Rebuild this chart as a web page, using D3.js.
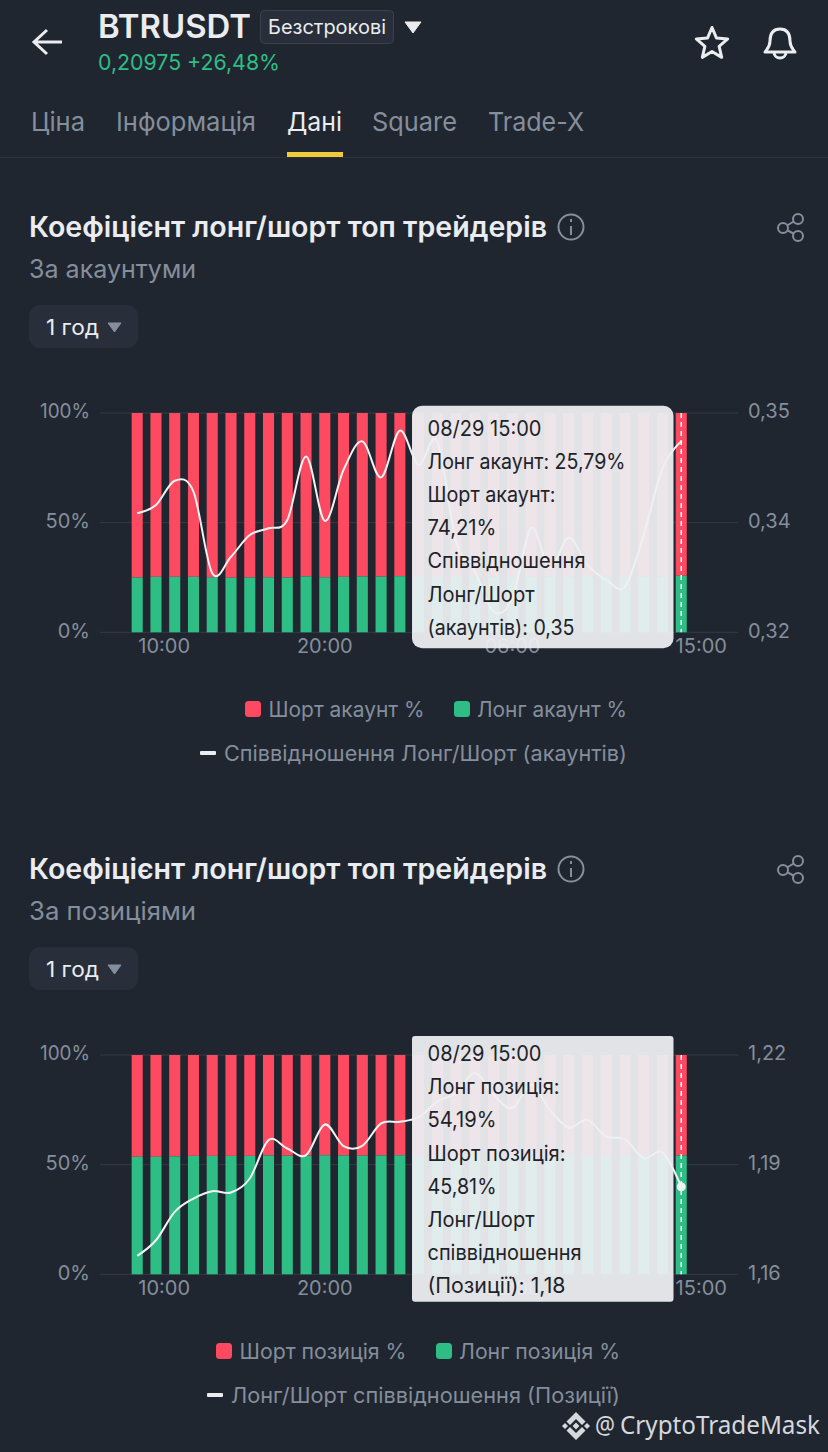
<!DOCTYPE html>
<html>
<head>
<meta charset="utf-8">
<script src="https://cdn.jsdelivr.net/npm/d3@7"></script>
<style>
  html, body { margin: 0; padding: 0; background: #20262f; }
  svg { display: block; }
  text { font-family: Inter, "Noto Sans", sans-serif; }
</style>
</head>
<body>
<div id="chart"></div>
<script>
// 30 hourly bars, the last one is 08/29 15:00
const hours = ["10:00","11:00","12:00","13:00","14:00","15:00","16:00","17:00","18:00","19:00",
  "20:00","21:00","22:00","23:00","00:00","01:00","02:00","03:00","04:00","05:00",
  "06:00","07:00","08:00","09:00","10:00","11:00","12:00","13:00","14:00","15:00"];
const tickIndexes = [0, 10, 20, 29];
const pctTicks = [0, 50, 100];

// by accounts
const accountLong = [25.0,25.3,25.3,25.3,25.1,24.9,25.0,25.1,25.0,25.5,25.1,25.3,25.5,25.4,25.6,
  25.3,25.3,25.4,25.4,25.5,25.4,25.4,25.5,25.4,25.3,25.4,25.4,25.5,25.5,25.79];
const accountRatio = [.33628,.33741,.34074,.33923,.32807,.33034,.33331,.33423,.33536,.34406,
  .33525,.34224,.34612,.34119,.34758,.34292,.34612,.33242,.32831,.32283,
  .32466,.33425,.32877,.33297,.32922,.32717,.32626,.33333,.34247,.34612];
const accountRatioDomain = [0.32, 0.35];
const accountRatioTicks = ["0,32", "0,34", "0,35"];
const accountTooltip = ["08/29 15:00", "Лонг акаунт: 25,79%", "Шорт акаунт:", "74,21%",
  "Співвідношення", "Лонг/Шорт", "(акаунтів): 0,35"];

// by positions
const positionLong = [53.6,53.6,53.8,54.0,54.0,54.0,54.0,54.2,54.1,54.1,54.3,54.2,54.1,54.2,54.3,
  54.2,54.2,54.2,54.2,54.2,54.2,54.2,54.2,54.2,54.2,54.2,54.2,54.2,54.2,54.19];
const positionRatio = [1.16502,1.16931,1.17708,1.18073,1.18274,1.18237,1.18621,1.19671,1.19443,1.1926,
  1.201,1.19507,1.19516,1.20128,1.20173,1.20299,1.20728,1.20957,1.21506,1.20911,
  1.20546,1.21186,1.205,1.20015,1.20225,1.19768,1.19695,1.19174,1.19329,1.18396];
const positionRatioDomain = [1.16, 1.22];
const positionRatioTicks = ["1,16", "1,19", "1,22"];
const positionTooltip = ["08/29 15:00", "Лонг позиція:", "54,19%", "Шорт позиція:", "45,81%",
  "Лонг/Шорт", "співвідношення", "(Позиції): 1,18"];

const bg = "#20262f", red = "#fd4a60", green = "#2ebd85", grey = "#848e9c", light = "#eaecef";

const svg = d3.select("#chart").append("svg")
  .attr("width", 828).attr("height", 1452).attr("viewBox", "0 0 828 1452");
svg.append("rect").attr("width", 828).attr("height", 1452).attr("fill", bg);

// text with its width pinned, the phone font is not installed here
function label(parent, str, x, y, size, fill, width, weight) {
  const t = parent.append("text")
    .attr("x", x).attr("y", y).attr("dy", "0.35em")
    .attr("font-size", size).attr("fill", fill)
    .attr("font-weight", weight || 400).text(str);
  if (width) t.attr("textLength", width).attr("lengthAdjust", "spacingAndGlyphs");
  return t;
}

function triangle(parent, x0, x1, y0, y1, fill) {
  parent.append("path")
    .attr("d", `M${x0},${y0}L${x1},${y0}L${(x0 + x1) / 2},${y1}Z`)
    .attr("fill", fill).attr("stroke", fill).attr("stroke-width", 1).attr("stroke-linejoin", "round");
}

// header
const head = svg.append("g");
head.append("path").attr("d", "M62,42H34M47,30L34,42L47,54")
  .attr("fill", "none").attr("stroke", light).attr("stroke-width", 3);
label(head, "BTRUSDT", 98, 27, 32, light, 153, 600);
head.append("rect").attr("x", 260.5).attr("y", 10.5).attr("width", 133).attr("height", 33).attr("rx", 4)
  .attr("fill", "#282f3a").attr("stroke", "#3a414d");
label(head, "Безстрокові", 268, 27, 20, light, 118);
triangle(head, 405, 421, 22, 33, light);
label(head, "0,20975 +26,48%", 98, 62, 22, green, 182);

const starPts = d3.range(10).map(i => {
  const r = i % 2 ? 7.5 : 16.5, a = i * Math.PI / 5;
  return [712 + r * Math.sin(a), 44 - r * Math.cos(a)];
});
head.append("path").attr("d", d3.line().curve(d3.curveLinearClosed)(starPts))
  .attr("fill", "none").attr("stroke", light).attr("stroke-width", 3).attr("stroke-linejoin", "round");
head.append("path")
  .attr("d", "M780,29C772,29 770,35 770,41C770,47 767,49 765,52H795C793,49 790,47 790,41C790,35 788,29 780,29ZM774,52C774,60 786,60 786,52")
  .attr("fill", "none").attr("stroke", light).attr("stroke-width", 3).attr("stroke-linejoin", "round");

// tabs
const tabs = [["Ціна", 31, 54], ["Інформація", 116, 140], ["Дані", 287, 55], ["Square", 372, 85], ["Trade-X", 488, 96]];
tabs.forEach(([name, x, w]) => label(head, name, x, 122, 26, name === "Дані" ? light : grey, w));
head.append("rect").attr("x", 0).attr("y", 157).attr("width", 828).attr("height", 1).attr("fill", "#2b3139");
head.append("rect").attr("x", 287).attr("y", 152).attr("width", 56).attr("height", 5).attr("fill", "#f0c93c");

function section(cfg) {
  const g = svg.append("g").attr("transform", `translate(0,${cfg.dy})`);
  const top = 413, bottom = 632.3;

  label(g, "Коефіцієнт лонг/шорт топ трейдерів", 29, 227, 28, light, 518, 600);
  g.append("circle").attr("cx", 571).attr("cy", 227).attr("r", 12.5)
    .attr("fill", "none").attr("stroke", grey).attr("stroke-width", 2);
  g.append("path").attr("d", "M571,226V235M571,219V222").attr("stroke", grey).attr("stroke-width", 2);
  g.append("path").attr("d", "M798,219L783,228L798,236")
    .attr("fill", "none").attr("stroke", grey).attr("stroke-width", 2);
  [[798, 219], [783, 228], [798, 236]].forEach(([cx, cy]) =>
    g.append("circle").attr("cx", cx).attr("cy", cy).attr("r", 5).attr("fill", bg).attr("stroke", grey).attr("stroke-width", 2));
  label(g, cfg.subtitle, 29, 269, 25, grey, 167);

  g.append("rect").attr("x", 29).attr("y", 305).attr("width", 109).attr("height", 43).attr("rx", 11).attr("fill", "#282f3a");
  label(g, "1 год", 46, 327, 22, light, 53);
  triangle(g, 108, 121, 323, 332, grey);

  // scales
  const x = d3.scaleBand().domain(d3.range(hours.length)).range([127.82, 690.62])
    .paddingInner(0.41).paddingOuter(0.205);
  const cx = i => x(i) + x.bandwidth() / 2;
  const yPct = d3.scaleLinear().domain([0, 100]).range([bottom, top]);
  const yRatio = d3.scaleLinear().domain(cfg.ratioDomain).range([bottom, top]);

  // grid
  g.append("g").selectAll("line").data(pctTicks).join("line")
    .attr("x1", 100).attr("x2", 738).attr("y1", d => yPct(d)).attr("y2", d => yPct(d))
    .attr("stroke", "#343b46").attr("stroke-width", 1);

  // stacked bars
  const bars = g.append("g");
  bars.selectAll("rect.short").data(cfg.long).join("rect").attr("class", "short")
    .attr("x", (d, i) => x(i)).attr("width", x.bandwidth())
    .attr("y", yPct(100)).attr("height", d => yPct(d) - yPct(100)).attr("fill", red);
  bars.selectAll("rect.long").data(cfg.long).join("rect").attr("class", "long")
    .attr("x", (d, i) => x(i)).attr("width", x.bandwidth())
    .attr("y", d => yPct(d)).attr("height", d => yPct(0) - yPct(d)).attr("fill", green);

  // ratio line
  const line = d3.line().x((d, i) => cx(i)).y(d => yRatio(d)).curve(d3.curveCatmullRom.alpha(0));
  g.append("path").attr("d", line(cfg.ratio)).attr("fill", "none").attr("stroke", "#f1f2f4").attr("stroke-width", 2);

  // crosshair on the hovered bar
  const last = hours.length - 1;
  g.append("line").attr("x1", cx(last)).attr("x2", cx(last)).attr("y1", top).attr("y2", bottom)
    .attr("stroke", "#fff").attr("stroke-width", 1.5).attr("stroke-dasharray", "5,4");
  if (cfg.dot) {
    g.append("circle").attr("cx", cx(last)).attr("cy", yRatio(cfg.ratio[last])).attr("r", 4.5).attr("fill", "#f1f2f4");
  }

  // axes
  const axisStyle = a => {
    a.select(".domain").remove();
    a.selectAll("text").attr("fill", grey).attr("font-size", 20);
  };
  g.append("g").attr("transform", "translate(90,-1.5)")
    .call(d3.axisLeft(yPct).tickValues(pctTicks).tickFormat(d => d + "%").tickSize(0).tickPadding(0))
    .call(axisStyle)
    .selectAll("text").filter(d => d === 100)
    .attr("textLength", 50).attr("lengthAdjust", "spacingAndGlyphs");
  const ratioValues = [cfg.ratioDomain[0], d3.mean(cfg.ratioDomain), cfg.ratioDomain[1]];
  g.append("g").attr("transform", "translate(748,-1.5)")
    .call(d3.axisRight(yRatio).tickValues(ratioValues).tickFormat((d, i) => cfg.ratioTicks[i]).tickSize(0).tickPadding(0))
    .call(axisStyle);
  const xAxis = g.append("g").attr("transform", `translate(0,${bottom + 15.5})`)
    .call(d3.axisBottom(x).tickValues(tickIndexes).tickFormat(i => hours[i]).tickSize(0).tickPadding(0))
    .call(axisStyle);
  // first and last labels are pushed inside the plot
  xAxis.selectAll("text").attr("dx", i => i === 0 ? 27 : i === last ? 20 : 0).attr("dy", 0).attr("dominant-baseline", "middle");

  // legend
  const leg = cfg.legend;
  g.append("rect").attr("x", leg.redX).attr("y", 701).attr("width", 16).attr("height", 16).attr("rx", 3.5).attr("fill", red);
  label(g, leg.short, leg.redX + 23.5, 709.5, 21, grey, leg.shortW);
  g.append("rect").attr("x", leg.greenX).attr("y", 701).attr("width", 16).attr("height", 16).attr("rx", 3.5).attr("fill", green);
  label(g, leg.long, leg.greenX + 23, 709.5, 21, grey, leg.longW);
  g.append("rect").attr("x", leg.lineX).attr("y", 751).attr("width", 16).attr("height", 4).attr("rx", 1).attr("fill", light);
  label(g, leg.ratio, leg.lineX + 24, 753.5, 21, grey, leg.ratioW);

  // tooltip
  const tip = cfg.tip;
  g.append("rect").attr("x", 412).attr("y", tip.y0).attr("width", 261.5).attr("height", tip.y1 - tip.y0)
    .attr("rx", tip.r).attr("fill", "#edeff2").attr("fill-opacity", 0.94);
  cfg.tooltip.forEach((str, i) => {
    label(g, str, 427.5, tip.first + i * tip.step, 21, "#1e2329", tip.widths[i]);
  });
}

section({
  dy: 0, subtitle: "За акаунтуми", long: accountLong, ratio: accountRatio,
  ratioDomain: accountRatioDomain, ratioTicks: accountRatioTicks, tooltip: accountTooltip, dot: false,
  legend: { redX: 245, short: "Шорт акаунт %", shortW: 156, greenX: 454, long: "Лонг акаунт %", longW: 150,
    lineX: 200, ratio: "Співвідношення Лонг/Шорт (акаунтів)", ratioW: 403 },
  tip: { y0: 405.7, y1: 648.3, r: 10, first: 428.3, step: 33.2, widths: [114, 198, 128, 69, 158, 107, 147] }
});
section({
  dy: 642, subtitle: "За позиціями", long: positionLong, ratio: positionRatio,
  ratioDomain: positionRatioDomain, ratioTicks: positionRatioTicks, tooltip: positionTooltip, dot: true,
  legend: { redX: 216, short: "Шорт позиція %", shortW: 167, greenX: 436, long: "Лонг позиція %", longW: 161,
    lineX: 207, ratio: "Лонг/Шорт співвідношення (Позиції)", ratioW: 389 },
  tip: { y0: 394, y1: 659.7, r: 3, first: 411.6, step: 33.2, widths: [114, 132, 69, 138, 69, 107, 154, 138] }
});

// watermark
const wm = svg.append("g").attr("fill", "#d5d8dc");
wm.append("path").attr("d", "M576,1412L585.5,1421.5L582,1425L576,1419L570,1425L566.5,1421.5Z");
wm.append("path").attr("d", "M576,1440L585.5,1430.5L582,1427L576,1433L570,1427L566.5,1430.5Z");
[[565, 1426, 3], [576, 1426, 3.5], [587, 1426, 3]].forEach(([x, y, r]) => {
  wm.append("path").attr("d", `M${x - r},${y}L${x},${y - r}L${x + r},${y}L${x},${y + r}Z`);
});
label(wm, "@", 595, 1425, 25, "#d5d8dc", 20).style("font-family", "'Noto Sans'");
label(wm, "CryptoTradeMask", 620, 1425, 25, "#d5d8dc", 200).style("font-family", "'Noto Sans'");
</script>
</body>
</html>
